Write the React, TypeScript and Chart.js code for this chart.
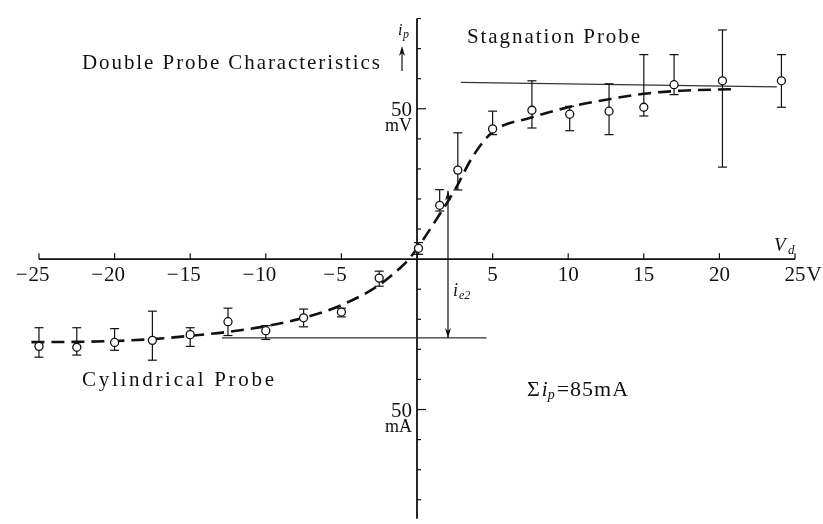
import React, { useEffect, useRef } from "react";
import { Chart, registerables } from "chart.js";

Chart.register(...registerables);

// ---- data (x: V_d in volts, y: i_p in mV / mA units) ----
const pointV = [-25, -22.5, -20, -17.5, -15, -12.5, -10, -7.5, -5, -2.5, 0.1, 1.5, 2.7, 5, 7.6, 10.1, 12.7, 15, 17, 20.2, 24.1];
const pointI = [-29, -29.3, -27.7, -27, -25.1, -20.8, -23.8, -19.5, -17.6, -6.3, 3.6, 17.9, 29.6, 43.3, 49.5, 48.2, 49.2, 50.5, 58, 59.3, 59.3];
const errHigh = [-22.8, -22.8, -23.1, -17.3, -22.8, -16.3, -22.1, -16.6, -16.3, -4, 5.5, 23.1, 42, 49.2, 59.3, 50.8, 58.3, 68, 68, 76.2, 68];
const errLow = [-32.6, -31.9, -30.3, -33.6, -29, -25.4, -26.7, -22.5, -19.2, -9, 1.6, 16, 23, 41.4, 43.6, 42.7, 41.4, 47.6, 54.7, 30.6, 50.5];

const curveV = [-25.5, -22.5, -20, -17.5, -15, -12.5, -10, -7.5, -5, -2.5, -1.2, -0.5, 1.5, 2.5, 3.7, 5, 7.5, 10, 12.5, 15, 17.5, 20.8];
const curveI = [-27.6, -27.5, -27.2, -26.6, -25.5, -24.2, -22.3, -19.5, -15.3, -8.6, -3.3, 0.2, 14.9, 23, 34.2, 42.3, 47, 50.5, 53, 55, 56, 56.5];

const stagV = [2.9, 23.8];
const stagI = [58.8, 57.3];
const cylV = [-12.9, 4.6];
const cylI = [-26.2, -26.2];
const arrowV = [2.05, 2.05];
const arrowI = [-26.2, 22.7];

const xTickValues = [-25, -20, -15, -10, -5, 5, 10, 15, 20, 25];
const xTickLabels = ["−25", "−20", "−15", "−10", "−5", "5", "10", "15", "20", "25"];
const xUnit = "V";
const yTickValues = [-80, -70, -60, -50, -40, -30, -20, -10, 10, 20, 30, 40, 50, 60, 70, 80];
const yLabelValues = [50, -50];
const yLabelTexts = ["50", "50"];
const yUnitTexts = ["mV", "mA"];

const xAxisRange = [-25, 25];
const yAxisRange = [-86.3, 80];

const SERIF = '"Liberation Serif", "DejaVu Serif", serif';
const INK = "#111";

function spaced(ctx: CanvasRenderingContext2D, text: string, x: number, y: number, width: number) {
  const chars = Array.from(text);
  const widths = chars.map((c) => ctx.measureText(c).width);
  const total = widths.reduce((a, b) => a + b, 0);
  const gap = chars.length > 1 ? (width - total) / (chars.length - 1) : 0;
  let cx = x;
  chars.forEach((c, i) => {
    ctx.fillText(c, cx, y);
    cx += widths[i] + gap;
  });
}

function line(ctx: CanvasRenderingContext2D, x1: number, y1: number, x2: number, y2: number) {
  ctx.beginPath();
  ctx.moveTo(x1, y1);
  ctx.lineTo(x2, y2);
  ctx.stroke();
}

function arrowHead(ctx: CanvasRenderingContext2D, x: number, y: number, dir: number) {
  // dir = -1 points up, +1 points down
  ctx.beginPath();
  ctx.moveTo(x, y);
  ctx.lineTo(x - 3, y - dir * 10);
  ctx.lineTo(x, y - dir * 7);
  ctx.lineTo(x + 3, y - dir * 10);
  ctx.closePath();
  ctx.fill();
}

const overlay = {
  id: "overlay",
  beforeDatasetsDraw(chart: any) {
    const { ctx } = chart;
    const xs = chart.scales.x;
    const ys = chart.scales.y;
    const x0 = xs.getPixelForValue(0);
    const y0 = ys.getPixelForValue(0);
    ctx.save();
    ctx.strokeStyle = INK;
    ctx.fillStyle = INK;
    // x axis
    ctx.lineWidth = 1.6;
    line(ctx, xs.getPixelForValue(xAxisRange[0]), y0, xs.getPixelForValue(xAxisRange[1]), y0);
    ctx.lineWidth = 1.2;
    xTickValues.forEach((v) => {
      const px = xs.getPixelForValue(v);
      line(ctx, px, y0, px, y0 - 6);
    });
    // y axis
    ctx.lineWidth = 1.8;
    line(ctx, x0, ys.getPixelForValue(yAxisRange[1]), x0, ys.getPixelForValue(yAxisRange[0]));
    ctx.lineWidth = 1.2;
    yTickValues.forEach((v) => {
      const py = ys.getPixelForValue(v);
      const len = Math.abs(v) === 50 ? 9 : 4;
      line(ctx, x0, py, x0 + len, py);
    });
    // x tick labels: digits centred on the tick, minus hanging to the left
    ctx.font = `21px ${SERIF}`;
    ctx.textBaseline = "alphabetic";
    xTickLabels.forEach((lab, i) => {
      const px = xs.getPixelForValue(xTickValues[i]);
      const neg = lab.startsWith("−");
      const core = neg ? lab.slice(1) : lab;
      const w = ctx.measureText(core).width;
      ctx.textAlign = "left";
      ctx.fillText(core, px - w / 2, y0 + 22);
      if (neg) {
        ctx.textAlign = "right";
        ctx.fillText("−", px - w / 2 - 1, y0 + 22);
      }
      if (i === xTickLabels.length - 1) {
        ctx.textAlign = "left";
        ctx.fillText(xUnit, px + w / 2 + 1, y0 + 22);
      }
    });
    // y labels
    ctx.textAlign = "right";
    yLabelValues.forEach((v, i) => {
      const py = ys.getPixelForValue(v);
      ctx.font = `21px ${SERIF}`;
      ctx.fillText(yLabelTexts[i], x0 - 5, py + 7);
      ctx.font = `18px ${SERIF}`;
      ctx.fillText(yUnitTexts[i], x0 - 5, py + 22);
    });
    ctx.restore();
  },
  beforeDatasetDraw(chart: any, args: any) {
    if (args.index !== 0) return;
    const { ctx } = chart;
    const xs = chart.scales.x;
    const ys = chart.scales.y;
    ctx.save();
    ctx.strokeStyle = INK;
    ctx.lineWidth = 1.2;
    pointV.forEach((v, i) => {
      const px = xs.getPixelForValue(v);
      const top = ys.getPixelForValue(errHigh[i]);
      const bot = ys.getPixelForValue(errLow[i]);
      line(ctx, px, top, px, bot);
      line(ctx, px - 4.5, top, px + 4.5, top);
      line(ctx, px - 4.5, bot, px + 4.5, bot);
    });
    ctx.restore();
  },
  afterDatasetsDraw(chart: any) {
    const { ctx } = chart;
    const xs = chart.scales.x;
    const ys = chart.scales.y;
    ctx.save();
    ctx.fillStyle = INK;
    ctx.strokeStyle = INK;
    // i_e2 double arrow heads
    const ax = xs.getPixelForValue(arrowV[0]);
    arrowHead(ctx, ax, ys.getPixelForValue(arrowI[0]), 1);
    arrowHead(ctx, ax, ys.getPixelForValue(arrowI[1]), -1);
    // i_p arrow near the y axis
    ctx.lineWidth = 1.2;
    line(ctx, 402, 71, 402, 50);
    arrowHead(ctx, 402, 46, -1);

    ctx.textAlign = "left";
    ctx.textBaseline = "alphabetic";
    ctx.font = `21px ${SERIF}`;
    spaced(ctx, "Double Probe Characteristics", 82, 69, 298);
    spaced(ctx, "Stagnation Probe", 467, 43, 173);
    spaced(ctx, "Cylindrical Probe", 82, 386, 192);

    // Σ i_p = 85mA
    ctx.font = `22px ${SERIF}`;
    let cx = 527;
    const by = 396;
    ctx.fillText("Σ", cx, by);
    cx += ctx.measureText("Σ").width + 2;
    ctx.font = `italic 21px ${SERIF}`;
    ctx.fillText("i", cx, by);
    cx += ctx.measureText("i").width;
    ctx.font = `italic 14px ${SERIF}`;
    ctx.fillText("p", cx, by + 3);
    cx += ctx.measureText("p").width + 2;
    ctx.font = `22px ${SERIF}`;
    const rest = "=85mA";
    spaced(ctx, rest, cx, by, ctx.measureText(rest).width + 4);

    // i_e2
    ctx.font = `italic 18px ${SERIF}`;
    ctx.fillText("i", 453, 296);
    ctx.font = `italic 12px ${SERIF}`;
    ctx.fillText("e2", 459, 299);

    // V_d
    ctx.font = `italic 19px ${SERIF}`;
    ctx.fillText("V", 774, 251);
    ctx.font = `italic 13px ${SERIF}`;
    ctx.fillText("d", 788, 254);

    // i_p
    ctx.font = `italic 16px ${SERIF}`;
    ctx.fillText("i", 398, 35);
    ctx.font = `italic 12px ${SERIF}`;
    ctx.fillText("p", 403, 38);
    ctx.restore();
  },
};

export default function App() {
  const ref = useRef<HTMLCanvasElement | null>(null);
  useEffect(() => {
    if (!ref.current) return;
    const toXY = (xs: number[], ys: number[]) => xs.map((x, i) => ({ x, y: ys[i] }));
    const chart = new Chart(ref.current, {
      type: "scatter",
      data: {
        datasets: [
          {
            data: toXY(pointV, pointI),
            pointRadius: 4,
            pointBackgroundColor: "#fff",
            pointBorderColor: INK,
            pointBorderWidth: 1.3,
            showLine: false,
          },
          {
            data: toXY(curveV, curveI),
            showLine: true,
            borderColor: INK,
            borderWidth: 2.6,
            borderDash: [13, 7],
            pointRadius: 0,
            cubicInterpolationMode: "monotone",
          },
          {
            data: toXY(stagV, stagI),
            showLine: true,
            borderColor: "#333",
            borderWidth: 1.2,
            pointRadius: 0,
          },
          {
            data: toXY(cylV, cylI),
            showLine: true,
            borderColor: "#333",
            borderWidth: 1.2,
            pointRadius: 0,
          },
          {
            data: toXY(arrowV, arrowI),
            showLine: true,
            borderColor: INK,
            borderWidth: 1.2,
            pointRadius: 0,
          },
        ],
      } as any,
      options: {
        responsive: false,
        animation: false,
        devicePixelRatio: 1,
        events: [],
        layout: { padding: { left: 16.3, right: 4.3, top: 0, bottom: 0 } },
        plugins: { legend: { display: false }, tooltip: { enabled: false } },
        scales: {
          x: { type: "linear", min: -26.5, max: 26.5, display: false },
          y: { type: "linear", min: -86.3, max: 84.4, display: false },
        },
      } as any,
      plugins: [overlay],
    });
    return () => chart.destroy();
  }, []);
  return (
    <div style={{ position: "absolute", left: 0, top: 0, width: 823, height: 524, background: "#fff" }}>
      <canvas ref={ref} width={823} height={524} style={{ display: "block" }} />
    </div>
  );
}
